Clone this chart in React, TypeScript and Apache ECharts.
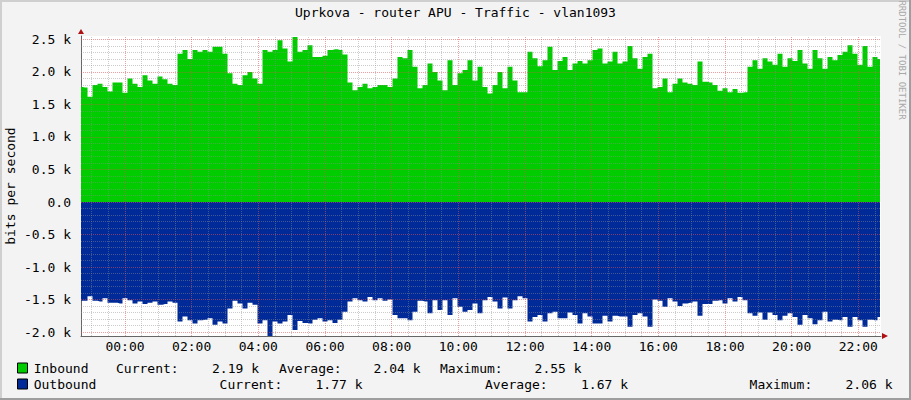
import * as echarts from 'echarts'
import React, { useEffect, useRef } from 'react'

const chartTitle = 'Uprkova - router APU - Traffic - vlan1093'
const yAxisName = 'bits per second'
const watermark = 'RRDTOOL / TOBI OETIKER'

// samples, in k bits/s, one every 9 minutes
const firstMinute = -81
const stepMinutes = 9

const inbound = [
  1.77, 1.76, 1.62, 1.8, 1.82, 1.77, 1.7, 1.84, 1.84, 1.68,
  1.9, 1.82, 1.77, 1.95, 1.87, 1.82, 1.93, 1.89, 1.82, 1.8,
  2.28, 2.34, 2.2, 2.34, 2.31, 2.34, 2.31, 2.39, 2.39, 2.28,
  1.98, 1.82, 1.8, 1.95, 2.0, 1.9, 1.82, 2.34, 2.31, 2.34,
  2.49, 2.36, 2.16, 2.54, 2.31, 2.34, 2.41, 2.23, 2.23, 2.25,
  2.34, 2.35, 2.34, 2.27, 1.84, 1.72, 1.77, 1.82, 1.75, 1.77,
  1.8, 1.8, 1.77, 1.9, 2.23, 2.21, 2.34, 2.08, 1.75, 1.8,
  2.13, 2.0, 1.87, 1.72, 2.18, 1.8, 1.98, 2.03, 2.18, 1.87,
  2.08, 1.77, 1.67, 1.8, 2.0, 1.75, 2.08, 1.87, 1.69, 1.69,
  2.31, 2.21, 2.09, 2.18, 2.39, 2.03, 2.17, 2.23, 2.03, 2.13,
  2.17, 2.13, 2.18, 2.34, 2.36, 2.13, 2.16, 2.31, 2.13, 2.16,
  2.4, 2.21, 2.05, 2.23, 2.28, 1.75, 1.77, 1.9, 1.69, 1.82,
  1.9, 1.84, 1.82, 1.8, 2.16, 1.85, 1.84, 1.8, 1.71, 1.75,
  1.69, 1.74, 1.68, 1.69, 2.08, 2.18, 2.05, 2.21, 2.16, 2.11,
  2.28, 2.08, 2.21, 2.17, 2.34, 2.13, 2.05, 2.34, 2.21, 2.05,
  2.23, 2.18, 2.26, 2.31, 2.41, 2.28, 2.11, 2.4, 2.08, 2.23, 2.2
]

// drawn below zero
const outbound = [
  1.52, 1.52, 1.45, 1.52, 1.53, 1.48, 1.55, 1.55, 1.56, 1.48,
  1.51, 1.56, 1.53, 1.57, 1.55, 1.53, 1.58, 1.57, 1.53, 1.55,
  1.84, 1.76, 1.82, 1.87, 1.82, 1.81, 1.79, 1.89, 1.84, 1.87,
  1.64, 1.52, 1.56, 1.64, 1.55, 1.58, 1.87, 1.82, 2.07, 1.84,
  1.87, 1.84, 1.74, 1.97, 1.83, 1.86, 1.87, 1.81, 1.79, 1.84,
  1.82, 1.86, 1.81, 1.69, 1.53, 1.48, 1.51, 1.53, 1.46, 1.51,
  1.48, 1.52, 1.5, 1.74, 1.79, 1.79, 1.82, 1.69, 1.52, 1.53,
  1.71, 1.51, 1.66, 1.51, 1.74, 1.48, 1.61, 1.69, 1.66, 1.56,
  1.71, 1.51, 1.46, 1.53, 1.64, 1.47, 1.64, 1.51, 1.45, 1.48,
  1.84, 1.77, 1.74, 1.84, 1.71, 1.69, 1.79, 1.79, 1.7, 1.74,
  1.87, 1.71, 1.76, 1.87, 1.87, 1.75, 1.84, 1.75, 1.76, 1.76,
  1.92, 1.74, 1.71, 1.76, 1.92, 1.5, 1.52, 1.61, 1.48, 1.53,
  1.6, 1.56, 1.55, 1.53, 1.75, 1.57, 1.57, 1.52, 1.51, 1.56,
  1.48, 1.53, 1.46, 1.51, 1.71, 1.75, 1.7, 1.81, 1.7, 1.74,
  1.82, 1.75, 1.71, 1.77, 1.89, 1.74, 1.79, 1.88, 1.82, 1.69,
  1.84, 1.81, 1.82, 1.77, 1.92, 1.77, 1.82, 1.92, 1.81, 1.82, 1.77
]

// minutes from midnight
const hourTicks = [0, 120, 240, 360, 480, 600, 720, 840, 960, 1080, 1200, 1320]
const hourLabels = ['00:00', '02:00', '04:00', '06:00', '08:00', '10:00', '12:00', '14:00', '16:00', '18:00', '20:00', '22:00']
const yTicks = [-2000, -1500, -1000, -500, 0, 500, 1000, 1500, 2000, 2500]

const inboundStats = ['2.19 k', '2.04 k', '2.55 k']
const outboundStats = ['1.77 k', '1.67 k', '2.06 k']

const FONT = "'DejaVu Sans Mono', monospace"
const GREEN = '#00CC00'
const BLUE = '#002A97'
const MINOR = 'rgba(143,143,143,0.45)'
const MAJOR = 'rgba(222,81,81,0.55)'

const App: React.FC = () => {
  const chartRef = useRef<HTMLDivElement>(null)

  useEffect(() => {
    const chart = echarts.init(chartRef.current!, null, { renderer: 'svg' })

    const gridLines: any[] = []
    for (let m = -60; m <= 1350; m += 30) {
      const major = m % 120 === 0
      gridLines.push({ xAxis: m, lineStyle: { color: major ? MAJOR : MINOR, type: [1, 1], width: 1 } })
    }
    for (let v = -2000; v <= 2500; v += 100) {
      const major = v % 500 === 0
      gridLines.push({ yAxis: v, lineStyle: { color: major ? MAJOR : MINOR, type: [1, 1], width: 1 } })
    }

    const text = (s: string, x: number, y: number) => ({
      type: 'text',
      x,
      y,
      style: { text: s, font: `13px ${FONT}`, fill: '#000', verticalAlign: 'middle' }
    })

    chart.setOption({
      animation: false,
      backgroundColor: '#f3f3f3',
      title: {
        text: chartTitle,
        left: 'center',
        top: 6,
        padding: 0,
        textStyle: { fontFamily: FONT, fontSize: 13, fontWeight: 'normal', color: '#000' }
      },
      grid: {
        left: 81,
        top: 36,
        width: 800,
        height: 300,
        show: true,
        backgroundColor: '#fff',
        borderWidth: 0,
        containLabel: false,
        outerBoundsMode: 'none'
      },
      xAxis: {
        type: 'value',
        min: -79.2,
        max: 1360.8,
        axisLine: { show: true, onZero: false, lineStyle: { color: '#666' } },
        axisTick: { show: false },
        splitLine: { show: false },
        axisLabel: {
          customValues: hourTicks,
          formatter: (v: number) => hourLabels[hourTicks.indexOf(v)] ?? '',
          fontFamily: FONT,
          fontSize: 13,
          color: '#000',
          margin: 4
        }
      },
      yAxis: {
        type: 'value',
        min: -2061.5,
        max: 2553.8,
        name: yAxisName,
        nameLocation: 'middle',
        nameRotate: 90,
        nameGap: 64,
        nameMoveOverlap: false,
        nameTextStyle: { fontFamily: FONT, fontSize: 13, color: '#000' },
        axisLine: { show: true, onZero: false, lineStyle: { color: '#666' } },
        axisTick: { show: false },
        splitLine: { show: false },
        axisLabel: {
          customValues: yTicks,
          formatter: (v: number) => (v === 0 ? '0.0' : (v / 1000).toFixed(1) + ' k'),
          fontFamily: FONT,
          fontSize: 13,
          color: '#000',
          margin: 10
        }
      },
      series: [
        {
          name: 'Inbound',
          type: 'line',
          step: 'middle',
          symbol: 'none',
          data: inbound.map((v, i) => [firstMinute + stepMinutes * i, v * 1000]),
          lineStyle: { width: 0 },
          itemStyle: { color: GREEN },
          areaStyle: { color: GREEN, opacity: 1 }
        },
        {
          name: 'Outbound',
          type: 'line',
          step: 'middle',
          symbol: 'none',
          data: outbound.map((v, i) => [firstMinute + stepMinutes * i, -v * 1000]),
          lineStyle: { width: 0 },
          itemStyle: { color: BLUE },
          areaStyle: { color: BLUE, opacity: 1 },
          markLine: {
            silent: true,
            symbol: 'none',
            label: { show: false },
            data: gridLines
          }
        }
      ],
      graphic: [
        // frame
        { type: 'rect', shape: { x: 0, y: 0, width: 911, height: 2 }, style: { fill: '#cfcfcf' } },
        { type: 'rect', shape: { x: 0, y: 0, width: 2, height: 400 }, style: { fill: '#cfcfcf' } },
        { type: 'rect', shape: { x: 909, y: 0, width: 2, height: 400 }, style: { fill: '#9e9e9e' } },
        { type: 'rect', shape: { x: 0, y: 398, width: 911, height: 2 }, style: { fill: '#9e9e9e' } },
        // axis arrows
        { type: 'polygon', shape: { points: [[78, 34], [81, 29], [84, 34]] }, style: { fill: '#b01010' } },
        { type: 'polygon', shape: { points: [[882, 333], [888, 336], [882, 339]] }, style: { fill: '#b01010' } },
        {
          type: 'text',
          x: 902,
          y: 60,
          rotation: -Math.PI / 2,
          style: { text: watermark, font: `9px ${FONT}`, fill: '#a8a8a8', align: 'center', verticalAlign: 'middle' }
        },
        // legend
        { type: 'rect', shape: { x: 17.5, y: 363, width: 10, height: 10 }, style: { fill: GREEN, stroke: '#000', lineWidth: 1 } },
        { type: 'rect', shape: { x: 17.5, y: 379, width: 10, height: 10 }, style: { fill: BLUE, stroke: '#000', lineWidth: 1 } },
        text('Inbound', 33.7, 368),
        text('Current:', 116, 368),
        text(inboundStats[0], 212, 368),
        text('Average:', 279, 368),
        text(inboundStats[1], 373.6, 368),
        text('Maximum:', 440, 368),
        text(inboundStats[2], 534.6, 368),
        text('Outbound', 33.7, 384),
        text('Current:', 219.6, 384),
        text(outboundStats[0], 315.5, 384),
        text('Average:', 485, 384),
        text(outboundStats[1], 581, 384),
        text('Maximum:', 749.6, 384),
        text(outboundStats[2], 845.5, 384)
      ]
    })

    return () => {
      chart.dispose()
    }
  }, [])

  return <div ref={chartRef} style={{ position: 'absolute', left: 0, top: 0, width: 911, height: 400 }} />
}

export default App
